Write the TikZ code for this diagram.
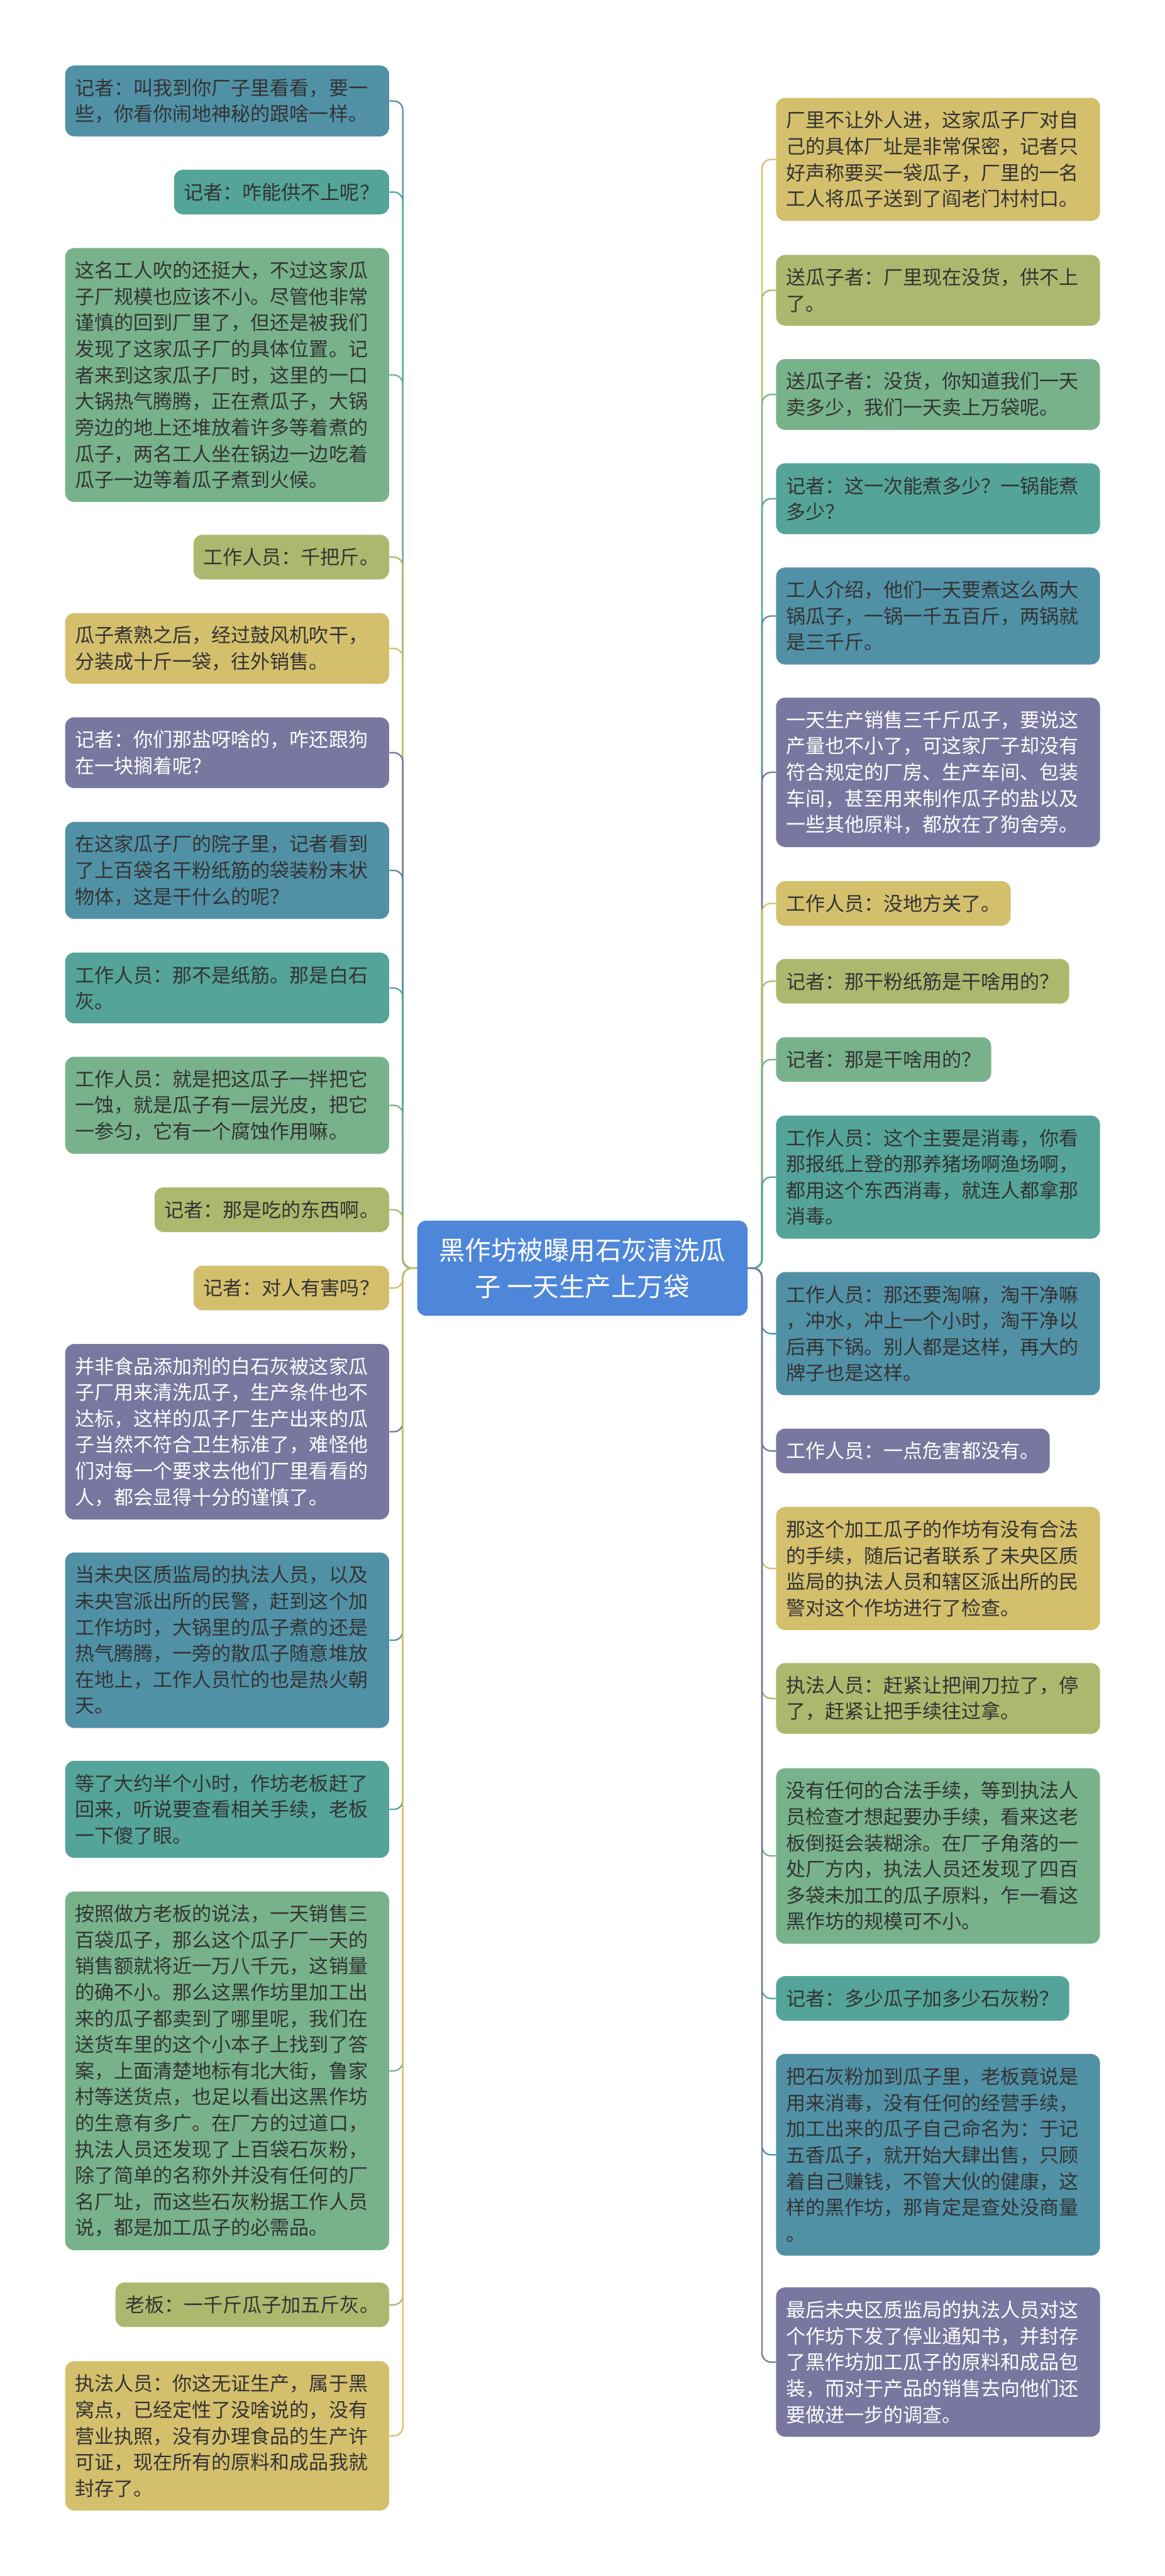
\documentclass[tikz,border=0pt]{standalone}
\usepackage{fontspec}
\setmainfont{Noto Sans CJK SC}
\usetikzlibrary{calc}
\definecolor{cblue}{HTML}{5191A6}
\definecolor{cteal}{HTML}{54A499}
\definecolor{cgreen}{HTML}{78B28B}
\definecolor{colive}{HTML}{ADB86E}
\definecolor{cgold}{HTML}{D4BF6D}
\definecolor{cpurple}{HTML}{77779F}
\definecolor{chub}{HTML}{4E86D9}
\definecolor{ctext}{HTML}{333333}

\begin{document}
\begin{tikzpicture}[x=1cm,y=1cm,
 leaf/.style={fill=#1,rounded corners=0.2cm,inner xsep=0.22cm,inner ysep=0pt,align=left,text=ctext,
  font=\fontsize{12.2pt}{16.36pt}\selectfont},
 wide/.style={text width=6.68cm},
 nlines/.style={minimum height={0.98cm+(#1-1)*0.575cm}},
 lt/.style={anchor=east},rt/.style={anchor=west},
 link/.style={draw=#1,line width=0.9pt,rounded corners=0.2cm}]
 \fill[white] (0,0) rectangle (25.6,-56.6);\useasboundingbox (0,0) rectangle (25.6,-56.6);
 \node[fill=chub,rounded corners=0.2cm,minimum width=7.26cm,minimum height=2.09cm,align=center,text=white,
  font=\fontsize{16.3pt}{22.7pt}\selectfont] (hub) at (12.80,-27.865) {黑作坊被曝用石灰清洗瓜\\子 一天生产上万袋};
 \node[leaf=cblue,wide,nlines=2,lt] (l1) at (8.56,-2.218) {记者：叫我到你厂子里看看，要一\\些，你看你闹地神秘的跟啥一样。};
 \node[leaf=cteal,nlines=1,lt] (l2) at (8.56,-4.22) {记者：咋能供不上呢？};
 \node[leaf=cgreen,wide,nlines=9,lt] (l3) at (8.56,-8.24) {这名工人吹的还挺大，不过这家瓜\\子厂规模也应该不小。尽管他非常\\谨慎的回到厂里了，但还是被我们\\发现了这家瓜子厂的具体位置。记\\者来到这家瓜子厂时，这里的一口\\大锅热气腾腾，正在煮瓜子，大锅\\旁边的地上还堆放着许多等着煮的\\瓜子，两名工人坐在锅边一边吃着\\瓜子一边等着瓜子煮到火候。};
 \node[leaf=colive,nlines=1,lt] (l4) at (8.56,-12.24) {工作人员：千把斤。};
 \node[leaf=cgold,wide,nlines=2,lt] (l5) at (8.56,-14.248) {瓜子煮熟之后，经过鼓风机吹干，\\分装成十斤一袋，往外销售。};
 \node[leaf=cpurple,text=white,wide,nlines=2,lt] (l6) at (8.56,-16.538) {记者：你们那盐呀啥的，咋还跟狗\\在一块搁着呢？};
 \node[leaf=cblue,wide,nlines=3,lt] (l7) at (8.56,-19.125) {在这家瓜子厂的院子里，记者看到\\了上百袋名干粉纸筋的袋装粉末状\\物体，这是干什么的呢？};
 \node[leaf=cteal,wide,nlines=2,lt] (l8) at (8.56,-21.708) {工作人员：那不是纸筋。那是白石\\灰。};
 \node[leaf=cgreen,wide,nlines=3,lt] (l9) at (8.56,-24.285) {工作人员：就是把这瓜子一拌把它\\一蚀，就是瓜子有一层光皮，把它\\一参匀，它有一个腐蚀作用嘛。};
 \node[leaf=colive,nlines=1,lt] (l10) at (8.56,-26.58) {记者：那是吃的东西啊。};
 \node[leaf=cgold,nlines=1,lt] (l11) at (8.56,-28.30) {记者：对人有害吗？};
 \node[leaf=cpurple,text=white,wide,nlines=6,lt] (l12) at (8.56,-31.458) {并非食品添加剂的白石灰被这家瓜\\子厂用来清洗瓜子，生产条件也不\\达标，这样的瓜子厂生产出来的瓜\\子当然不符合卫生标准了，难怪他\\们对每一个要求去他们厂里看看的\\人，都会显得十分的谨慎了。};
 \node[leaf=cblue,wide,nlines=6,lt] (l13) at (8.56,-36.038) {当未央区质监局的执法人员，以及\\未央宫派出所的民警，赶到这个加\\工作坊时，大锅里的瓜子煮的还是\\热气腾腾，一旁的散瓜子随意堆放\\在地上，工作人员忙的也是热火朝\\天。};
 \node[leaf=cteal,wide,nlines=3,lt] (l14) at (8.56,-39.755) {等了大约半个小时，作坊老板赶了\\回来，听说要查看相关手续，老板\\一下傻了眼。};
 \node[leaf=cgreen,wide,nlines=13,lt] (l15) at (8.56,-45.50) {按照做方老板的说法，一天销售三\\百袋瓜子，那么这个瓜子厂一天的\\销售额就将近一万八千元，这销量\\的确不小。那么这黑作坊里加工出\\来的瓜子都卖到了哪里呢，我们在\\送货车里的这个小本子上找到了答\\案，上面清楚地标有北大街，鲁家\\村等送货点，也足以看出这黑作坊\\的生意有多广。在厂方的过道口，\\执法人员还发现了上百袋石灰粉，\\除了简单的名称外并没有任何的厂\\名厂址，而这些石灰粉据工作人员\\说，都是加工瓜子的必需品。};
 \node[leaf=colive,nlines=1,lt] (l16) at (8.56,-50.64) {老板：一千斤瓜子加五斤灰。};
 \node[leaf=cgold,wide,nlines=5,lt] (l17) at (8.56,-53.52) {执法人员：你这无证生产，属于黑\\窝点，已经定性了没啥说的，没有\\营业执照，没有办理食品的生产许\\可证，现在所有的原料和成品我就\\封存了。};
 \node[leaf=cgold,wide,nlines=4,rt] (r1) at (17.05,-3.503) {厂里不让外人进，这家瓜子厂对自\\己的具体厂址是非常保密，记者只\\好声称要买一袋瓜子，厂里的一名\\工人将瓜子送到了阎老门村村口。};
 \node[leaf=colive,wide,nlines=2,rt] (r2) at (17.05,-6.378) {送瓜子者：厂里现在没货，供不上\\了。};
 \node[leaf=cgreen,wide,nlines=2,rt] (r3) at (17.05,-8.668) {送瓜子者：没货，你知道我们一天\\卖多少，我们一天卖上万袋呢。};
 \node[leaf=cteal,wide,nlines=2,rt] (r4) at (17.05,-10.958) {记者：这一次能煮多少？一锅能煮\\多少？};
 \node[leaf=cblue,wide,nlines=3,rt] (r5) at (17.05,-13.535) {工人介绍，他们一天要煮这么两大\\锅瓜子，一锅一千五百斤，两锅就\\是三千斤。};
 \node[leaf=cpurple,text=white,wide,nlines=5,rt] (r6) at (17.05,-16.97) {一天生产销售三千斤瓜子，要说这\\产量也不小了，可这家厂子却没有\\符合规定的厂房、生产车间、包装\\车间，甚至用来制作瓜子的盐以及\\一些其他原料，都放在了狗舍旁。};
 \node[leaf=cgold,nlines=1,rt] (r7) at (17.05,-19.85) {工作人员：没地方关了。};
 \node[leaf=colive,nlines=1,rt] (r8) at (17.05,-21.56) {记者：那干粉纸筋是干啥用的？};
 \node[leaf=cgreen,nlines=1,rt] (r9) at (17.05,-23.28) {记者：那是干啥用的？};
 \node[leaf=cteal,wide,nlines=4,rt] (r10) at (17.05,-25.863) {工作人员：这个主要是消毒，你看\\那报纸上登的那养猪场啊渔场啊，\\都用这个东西消毒，就连人都拿那\\消毒。};
 \node[leaf=cblue,wide,nlines=4,rt] (r11) at (17.05,-29.303) {工作人员：那还要淘嘛，淘干净嘛\\，冲水，冲上一个小时，淘干净以\\后再下锅。别人都是这样，再大的\\牌子也是这样。};
 \node[leaf=cpurple,text=white,nlines=1,rt] (r12) at (17.05,-31.88) {工作人员：一点危害都没有。};
 \node[leaf=cgold,wide,nlines=4,rt] (r13) at (17.05,-34.463) {那这个加工瓜子的作坊有没有合法\\的手续，随后记者联系了未央区质\\监局的执法人员和辖区派出所的民\\警对这个作坊进行了检查。};
 \node[leaf=colive,wide,nlines=2,rt] (r14) at (17.05,-37.318) {执法人员：赶紧让把闸刀拉了，停\\了，赶紧让把手续往过拿。};
 \node[leaf=cgreen,wide,nlines=6,rt] (r15) at (17.05,-40.778) {没有任何的合法手续，等到执法人\\员检查才想起要办手续，看来这老\\板倒挺会装糊涂。在厂子角落的一\\处厂方内，执法人员还发现了四百\\多袋未加工的瓜子原料，乍一看这\\黑作坊的规模可不小。};
 \node[leaf=cteal,nlines=1,rt] (r16) at (17.05,-43.91) {记者：多少瓜子加多少石灰粉？};
 \node[leaf=cblue,wide,nlines=7,rt] (r17) at (17.05,-47.345) {把石灰粉加到瓜子里，老板竟说是\\用来消毒，没有任何的经营手续，\\加工出来的瓜子自己命名为：于记\\五香瓜子，就开始大肆出售，只顾\\着自己赚钱，不管大伙的健康，这\\样的黑作坊，那肯定是查处没商量\\。};
 \node[leaf=cpurple,text=white,wide,nlines=5,rt] (r18) at (17.05,-51.90) {最后未央区质监局的执法人员对这\\个作坊下发了停业通知书，并封存\\了黑作坊加工瓜子的原料和成品包\\装，而对于产品的销售去向他们还\\要做进一步的调查。};
 \foreach \b/\c in {l1/cblue,l2/cteal,l3/cgreen,l4/colive,l5/cgold,l6/cpurple,l7/cblue,l8/cteal,l9/cgreen,l10/colive,
  l11/cgold,l12/cpurple,l13/cblue,l14/cteal,l15/cgreen,l16/colive,l17/cgold}{\draw[link=\c] (hub.west) -- ++(-0.31,0) |- (\b.east);}
 \foreach \b/\c in {r1/cgold,r2/colive,r3/cgreen,r4/cteal,r5/cblue,r6/cpurple,r7/cgold,r8/colive,r9/cgreen,r10/cteal,
  r11/cblue,r12/cpurple,r13/cgold,r14/colive,r15/cgreen,r16/cteal,r17/cblue,r18/cpurple}{\draw[link=\c] (hub.east) -- ++(0.31,0) |- (\b.west);}
\end{tikzpicture}
\end{document}
